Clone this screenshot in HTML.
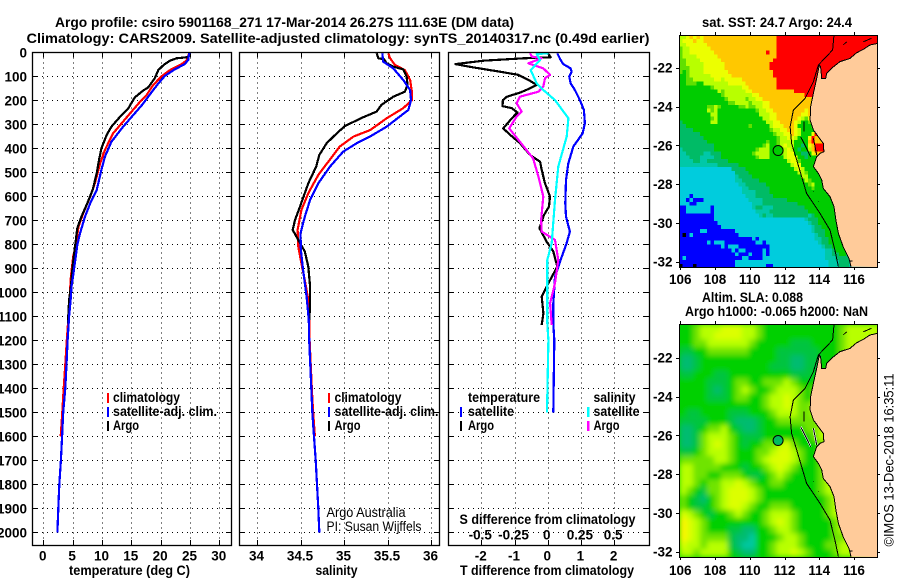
<!DOCTYPE html>
<html lang="en">
<head>
<meta charset="utf-8">
<title>Argo profile</title>
<style>
html,body{margin:0;padding:0;background:#fff;}
svg{display:block;}
text{font-family:"Liberation Sans",sans-serif;font-size:13.5px;font-weight:700;fill:#000;}
text.reg{font-weight:400;}
</style>
</head>
<body>
<svg id="chart" xmlns="http://www.w3.org/2000/svg" width="900" height="580" viewBox="0 0 900 580">
  <rect width="900" height="580" fill="#fff"/>
  <text x="55" y="27" font-size="14" textLength="459" lengthAdjust="spacingAndGlyphs">Argo profile: csiro 5901168_271 17-Mar-2014 26.27S 111.63E (DM data)</text>
  <text x="26.5" y="43" textLength="623" lengthAdjust="spacingAndGlyphs">Climatology: CARS2009. Satellite-adjusted climatology: synTS_20140317.nc (0.49d earlier)</text>

  <g id="panelT"></g>
  <g id="panelS"></g>
  <g id="panelD"></g>

  <g>
    <rect x="107" y="393" width="2" height="10" fill="#f00"/>
    <text x="113" y="402" textLength="67" lengthAdjust="spacingAndGlyphs">climatology</text>
    <rect x="107" y="407" width="2" height="10" fill="#00f"/>
    <text x="113" y="416" textLength="104" lengthAdjust="spacingAndGlyphs">satellite-adj. clim.</text>
    <rect x="107" y="421" width="2" height="10" fill="#000"/>
    <text x="113" y="430" textLength="26" lengthAdjust="spacingAndGlyphs">Argo</text>
  </g>
  <g>
    <rect x="328" y="393" width="2" height="10" fill="#f00"/>
    <text x="334.5" y="402" textLength="67" lengthAdjust="spacingAndGlyphs">climatology</text>
    <rect x="328" y="407" width="2" height="10" fill="#00f"/>
    <text x="334.5" y="416" textLength="104" lengthAdjust="spacingAndGlyphs">satellite-adj. clim.</text>
    <rect x="328" y="421" width="2" height="10" fill="#000"/>
    <text x="334.5" y="430" textLength="26" lengthAdjust="spacingAndGlyphs">Argo</text>
    <text class="reg" x="326.5" y="517" textLength="79" lengthAdjust="spacingAndGlyphs">Argo Australia</text>
    <text class="reg" x="326.5" y="531" textLength="95" lengthAdjust="spacingAndGlyphs">PI: Susan Wijffels</text>
  </g>
  <g>
    <text x="468" y="402" textLength="72" lengthAdjust="spacingAndGlyphs">temperature</text>
    <rect x="460" y="407" width="2" height="10" fill="#00f"/>
    <text x="468" y="416" textLength="46" lengthAdjust="spacingAndGlyphs">satellite</text>
    <rect x="460" y="421" width="2" height="10" fill="#000"/>
    <text x="468" y="430" textLength="26" lengthAdjust="spacingAndGlyphs">Argo</text>
    <text x="593.5" y="402" textLength="42" lengthAdjust="spacingAndGlyphs">salinity</text>
    <rect x="587" y="407" width="2.5" height="10" fill="#0ff"/>
    <text x="593.5" y="416" textLength="46" lengthAdjust="spacingAndGlyphs">satellite</text>
    <rect x="587" y="421" width="2.5" height="10" fill="#f0f"/>
    <text x="593.5" y="430" textLength="26" lengthAdjust="spacingAndGlyphs">Argo</text>
    <text x="459.5" y="524" textLength="176" lengthAdjust="spacingAndGlyphs">S difference from climatology</text>
  </g>

  <text x="69" y="575" textLength="121" lengthAdjust="spacingAndGlyphs">temperature (deg C)</text>
  <text x="315.5" y="575" textLength="42" lengthAdjust="spacingAndGlyphs">salinity</text>
  <text x="460" y="575" textLength="174" lengthAdjust="spacingAndGlyphs">T difference from climatology</text>

  <g id="map1"></g>
  <g id="map2"></g>

  <text x="702" y="27" textLength="150" lengthAdjust="spacingAndGlyphs">sat. SST: 24.7 Argo: 24.4</text>
  <text x="702" y="302" textLength="101" lengthAdjust="spacingAndGlyphs">Altim. SLA: 0.088</text>
  <text x="685" y="316" textLength="183" lengthAdjust="spacingAndGlyphs">Argo h1000: -0.065 h2000: NaN</text>
  <text class="reg" transform="translate(893.5,546.5) rotate(-90)" x="0" y="0" textLength="173" lengthAdjust="spacingAndGlyphs">©IMOS 13-Dec-2018 16:35:11</text>

  <defs>
    <filter id="soft" x="-5%" y="-5%" width="110%" height="110%"><feGaussianBlur stdDeviation="2.6"/></filter>
  </defs>
</svg>

<script>
// ---------- tick labels ----------
const depthTicks = [0,100,200,300,400,500,600,700,800,900,1000,1100,1200,1300,1400,1500,1600,1700,1800,1900,2000];
const tempTicks = [0,5,10,15,20,25,30];
const salTicks = [34,34.5,35,35.5,36];
const tDiffTicks = [-2,-1,0,1,2];
const sDiffTicks = [-0.5,-0.25,0,0.25,0.5];
const lonTicks = [106,108,110,112,114,116];
const latTicks = [-22,-24,-26,-28,-30,-32];

// ---------- temperature profiles ----------
const tArgoDepth = [0,20,25,35,53,74,108,146,160,188,233,268,310,344,400,449,504,574,629,685,733,810,893,976,1033,1130];
const tArgo = [25.0,24.7,22.7,21.6,20.5,19.6,19.0,17.9,17.0,15.6,14.5,13.1,11.6,10.8,9.9,9.5,9.1,8.4,7.5,6.5,5.8,5.4,5.0,4.7,4.4,4.2];
const tClimDepth = [0,32,49,74,99,136,178,206,254,303,338,407,462,546,601,671,726,796,851,935,1018,1100,1200,1300,1400,1500,1600];
const tClim = [24.9,24.5,23.6,21.6,20.2,18.75,17.6,16.5,14.8,13.1,11.9,10.5,9.7,8.8,8.0,6.8,6.0,5.6,5.1,4.7,4.5,4.3,4.0,3.75,3.47,3.24,2.96];
const tSatDepth = [0,32,49,74,99,130,165,220,268,310,373,435,490,574,629,685,754,803,865,928,976,1033,1100,1200,1300,1400,1500,1600,1700,1800,1900,2000];
const tSat = [24.9,24.7,24.1,22.2,20.7,19.6,18.5,16.8,15.1,13.6,11.6,10.5,9.9,9.1,8.0,7.1,6.25,5.8,5.45,5.1,4.8,4.65,4.4,4.15,3.95,3.75,3.4,3.2,3.0,2.73,2.56,2.4];

// ---------- salinity profiles ----------
const sArgoDepth = [4,25,29,46,60,71,101,136,164,185,219,247,271,307,338,379,428,476,546,643,699,740,782,830,893,976,1058,1115];
const sArgo = [35.375,35.395,35.46,35.49,35.567,35.68,35.72,35.73,35.70,35.567,35.43,35.375,35.22,35.01,34.916,34.80,34.716,34.68,34.59,34.494,34.437,34.41,34.475,34.55,34.59,34.61,34.61,34.60];
const sClimDepth = [4,25,53,74,115,164,199,233,275,324,351,393,456,511,587,657,740,810,879,949,1032,1115,1200,1400,1500,1600];
const sClim = [35.51,35.53,35.586,35.70,35.76,35.78,35.78,35.68,35.49,35.30,35.11,34.95,34.82,34.705,34.59,34.51,34.467,34.475,34.51,34.55,34.59,34.60,34.605,34.63,34.645,34.665];
const sSatDepth = [4,39,67,115,157,199,240,268,310,351,379,414,476,546,615,685,754,824,907,1018,1115,1200,1400,1500,1600,1700,1800,1900,2000];
const sSat = [35.44,35.45,35.567,35.68,35.76,35.77,35.74,35.64,35.49,35.30,35.145,34.99,34.84,34.705,34.61,34.55,34.50,34.505,34.53,34.57,34.595,34.60,34.624,34.636,34.655,34.675,34.69,34.705,34.716];

// ---------- difference profiles ----------
const dTSatDepth = [4,32,49,67,81,101,129,157,199,240,296,338,393,463,532,629,685,747,796,872,935,1046,1129,1199,1500];
const dTSat = [0.29,0.39,0.47,0.69,0.72,0.65,0.69,0.82,0.97,1.09,1.12,1.05,0.77,0.62,0.55,0.53,0.55,0.67,0.57,0.37,0.22,0.17,0.17,0.2,0.17];
const dTArgoDepth = [7,21,25,35,49,63,81,94,115,136,150,168,185,199,224,233,251,275,317,344,379,428,456,490,546,601,643,678,733,789,830,893,962,1018,1088,1136];
const dTArgo = [0.02,0.09,-0.73,-1.94,-2.78,-2.24,-1.44,-0.88,-0.58,-0.33,-0.53,-0.83,-1.23,-1.35,-1.36,-1.08,-0.91,-1.08,-1.34,-1.13,-0.83,-0.53,-0.23,-0.18,-0.08,0.07,0.04,-0.11,-0.25,-0.03,0.17,0.29,0.02,-0.18,-0.13,-0.18];
const dSArgoDepth = [4,18,25,46,67,94,108,143,164,185,212,247,268,317,372,442,518,601,699,747,782,865,962,1046,1136];
const dSArgo = [-0.133,-0.12,-0.045,-0.146,-0.033,0.018,-0.02,-0.033,-0.07,-0.21,-0.234,-0.196,-0.234,-0.29,-0.21,-0.11,-0.07,-0.033,-0.05,-0.045,0.055,0.08,0.055,0.018,0.03];
const dSSatDepth = [4,7,32,74,129,157,199,275,351,476,615,796,865,1004,1129,1199,1500];
const dSSat = [0.005,-0.083,-0.058,-0.128,-0.083,-0.033,0.055,0.156,0.143,0.08,0.055,0.03,-0.003,-0.003,-0.003,0.005,-0.005];

// ---------- SST map cells (0.2 degree); one letter per cell, spaces only group for reading ----------
const sstCells = [
"llyoyoyooo oooooooooo oooooooor",
"lyyyoyyooo oooooooooo oooooooor",
"llyyyyyyoo oooooooooo oooooooor",
"gllyyyyyyo oooooooooo oooooooor",
"gllyyyyyyy oooooooooo oooooroor",
"gllllyyyyy yooooooooo oooooooor",
"ggllllyyyy yyoooooooo ooooooor",
"gglllllyyy yyyooooooo oooooor",
"gggllllyyy yyyooooooo oooooor",
"gGgllllyyy yyyyoooooo ooooooor",
"GGglllllly yyyyyooooo ooooooor",
"GGggllllll yylyyyyyoo oooooooor",
"GGgggGGlll llllyyyyyo oooooooor",
"GGGGGGGGGg llllllllyy oooooooor",
"GGGGGGGGGG Glglllllly yoooooooooooor",
"GGGGGGGGGG GGglllllll lyyooooooo oooooor",
"GGGGGGGGGG GGGglllllg llyyoooooo oooooooooo",
"GGGGGGGGGG GGGGggllll glllyyoooo oooooooooo",
"GGGGGGGGgg lgGGGGGggl ggllyyoooo oooooooooo",
"GGGGGGGGlg lGGGGGGGGG GGgllyyooo ooooooyooo",
"GGGGGGGGGl lGGGGGGGGG GGGlllyyoo oooooyyooo",
"GGGGGGGGGg lGGGGGGGGG GGGGllyyoo ooooylgyoo",
"tGGGGGGGGl lGGGGGGGGG GGGGGllyyo oooylGGglo",
"ttGGGGGGGG GGGGGGGGGG gGGGGGlyyy oooyGGGGgo",
"ttttGGGGGG GGGGGGGGGG GGGGGGgllyy ooylGGGGry",
"ttttttGGGG GGGGGGGGGG GGGGGGGglly yoylGGGyro",
"tttttttGGG GGGGGGGGGG GGGGGGGGgl lyylGGGyro",
"ttttttttGG GGGGGGGGGG GGGGGgGGgl lllGGGGoro",
"tttttttttt GGGGGGGGGG GGGGglGGgl yllGGtGyor",
"Tttttttttt GGGGGGGGGG GGglllGGgg lylGtGGlor",
"TTtttttTTt ttGGGGGGGG GgllllGGGg lyyGGttGyo",
"TTTtttTTTT ttGGGGGGGG GGglllGGGG lyyyGGtGGG",
"TTTTttTTtt ttttGGGGGG GGGGGGGGGG GlyygGGGGG",
"TTTTTTTTTT TttttttGGG GGGGGGGGGG GGlyyGGGGG",
"cccccccccc cccccttttG GGGGGGGGGG GGGlylGGGG G",
"cccccccccc cccccctttt GGGGGGGGGG GGGGllgGGG GG",
"cccccccccc ccccccTttt tGGGGGGGGG GGGGGllGGG GGG",
"cccccccccc ccccccTTtt tttGGGGGGG GGGGGGlgGG GGG",
"cccccccccc cccccccTTt tttttGGGGG GGGGGGGglG GGG",
"cccccccccc ccccccccTT ttttttGGGG GGGGGGGGgG GGG",
"cccccccccc ccccccccTT TTttttGGGG GGGGGGGGGG GGGG",
"cccbcccccc cccccccccT TTtttttGGG GGGGGGGGGG GGGGt",
"ccbcbbbccc cccccccccc TTTTtttttt tGGGGGGGGG GGGGGt",
"cccbbccccc cccccccccc cTTTtttttt ttttGGGGGG GGGGGGtt",
"bbcccccccb cccccccccc cTttTTTttt ttttttGGGG GGGGGGGtt",
"bbcccccccb cccccccccc ccTTTTtttt tttttttGGG GGGGGGGttt",
"bbbbbbbbbb cccccccccc cccTtTTttt tttttttTtG GGGGGGGGtt",
"bbbbbbbbbb cccccccccc cccccccccc ccccccTttt GGGGGGGGGtt",
"bbbbbbbbbb bccccccccc cccccccccc cccccccTtt GGGGGGGGGGtT",
"bbbbbbbbbb bbcccccccc cccccccccc ccccccccTt tGGGGGGGGGtT",
"bbbbbbccbb bbbbbbcccc cccccccccc ccccccccTt ttGGGGGGGGttT",
"bkbcbbbbbb bbbbbbbccc cccccccccc cccccccccT ttGGGGGGGGtTT",
"bbbbbbbbbb bbbbbbbbbb bcbccccccc cccccccccT TttGGGGGGGttTT",
"bbbbbbbbcb cccbbbbbbb bbccbccccc cccccccccc TttGGGGGGttTc",
"bbbbbbbbbb bbcbcccbbb bbbbbbcccc cccccccccc cTttGGGGttTc",
"bbbbbbbbbb bbbbbcbccb bbbbcbcccc cccccccccc ccTTtGGGttTcc",
"bbbbbbbbbb bbbbbbcbbb cbbbcbcccc cccccccccc ccTTttGGttTcc",
"bcbbbbbbbb bbbbbbbbcc bbbbcccccc cccccccccc ccTTTttttTcc",
"bbbbbbbbbb bbbbbbcccc cccccccccc cccccccccc cccTTTtttTcc",
"kbbbkbbbbb bbbbbbcccc cccccbbccc cccccccccc cccTTTtttcc"
];

// ---------- SLA map cells (0.4 degree); one colour level per cell ----------
const slaCells = [
"3345556665543333333333345",
"3345566665543333333333345",
"3344555555433333222333345",
"2233444444333322222233345",
"1123333333333322112233345",
"1123333333333222112233455",
"2233322333333333222334555",
"3333222344334445433345555",
"3333212345433455543445555",
"3333222344334556543455555",
"3333333333334556544555555",
"3223333222333455544555555",
"2222333211123344444455555",
"1123445321123333334455555",
"1124555432223333333455555",
"1124565432334456433345555",
"2234555433344566543345555",
"4444455433345666543345555",
"5544443332334565433345555",
"5544334443223454333345555",
"5543445565433443333345555",
"5432445666543333333345555",
"4321345666543333333334555",
"4322345665433444333334555",
"6543233454334555433334555",
"7654333333334565433333455",
"7654333221133455433333455",
"7654444211033345543333445",
"6554555210033455543334455",
"5545555321133455654333455"
];

// ---------- geography (lon / lat) ----------
const coastLon = [117.34,116.92,116.54,116.15,115.77,115.19,114.71,114.43,114.37,114.14,114.08,114.0,113.91,113.79,113.66,113.5,113.47,113.66,113.95,114.23,114.27,114.04,113.85,113.66,113.95,114.14,114.23,114.62,114.85,114.96,115.1,115.38,115.71,115.83];
const coastLat = [-20.75,-20.83,-21.05,-21.23,-21.52,-21.69,-22.03,-22.29,-22.55,-22.55,-21.95,-21.86,-22.29,-22.81,-23.32,-24.01,-24.7,-25.21,-25.56,-25.9,-26.33,-26.42,-26.59,-27.1,-27.45,-27.79,-28.22,-28.65,-29.16,-29.85,-30.54,-31.23,-31.83,-32.26];
const isoLon = [114.85,114.77,113.95,113.66,113.18,112.51,112.32,112.41,112.7,113.27,114.04,114.62,114.9,115.1];
const isoLat = [-20.32,-21.09,-21.86,-22.72,-23.58,-24.18,-25.04,-25.9,-26.76,-28.48,-29.51,-30.37,-31.4,-32.26];
const islandLon = [[113.12,113.12],[112.93,113.27,113.5],[113.66,113.85],[115.38,115.58],[116.54,117.0],[113.66,113.7],[113.95,113.99],[115.75,115.9]];
const islandLat = [[-24.78,-25.3],[-25.56,-26.16,-26.59],[-25.64,-26.5],[-20.83,-20.66],[-20.66,-20.49],[-28.39,-28.39],[-28.9,-28.9],[-31.96,-31.96]];
const argoLon = 111.63;
const argoLat = -26.27;

const NS = 'http://www.w3.org/2000/svg';
function el(parent, tag, attrs, name, txt) {
  const e = document.createElementNS(NS, tag);
  for (const k in attrs) e.setAttribute(k, attrs[k]);
  
  
  if (txt !== undefined) e.textContent = txt;
  parent.appendChild(e);
  return e;
}

// ---------- profile panels ----------
const TOP = 52.3, BOT = 545;
const yD = d => TOP + 0.24 * d;
const xT = t => 43.3 + 5.867 * t;
const xS = s => 257 + 87 * (s - 34);
const xDT = t => 547.7 + 33.2 * t;
const xDS = s => 547.7 + 132.8 * s;

function profile(g, depths, vals, xf, color, w, name) {
  const pts = depths.map((d, i) => xf(vals[i]).toFixed(1) + ',' + yD(d).toFixed(1)).join(' ');
  el(g, 'polyline', {points: pts, fill: 'none', stroke: color, 'stroke-width': w, 'stroke-linejoin': 'round', 'shape-rendering': 'crispEdges'}, name);
}

function panelFrame(g, L, R, xTicks, xf, labelFn, depthLabels) {
  const hLine = {stroke: '#000', 'stroke-width': 1, 'stroke-dasharray': '1 4', 'shape-rendering': 'crispEdges'};
  depthTicks.forEach(d => {
    const y = Math.round(yD(d)) + 0.5;
    el(g, 'line', Object.assign({x1: L, x2: R, y1: y, y2: y}, hLine), 'depth-gridline');
    el(g, 'line', {x1: L, x2: L + 5, y1: y, y2: y, stroke: '#000', 'stroke-width': 1}, 'depth-tick-left');
    el(g, 'line', {x1: R - 5, x2: R, y1: y, y2: y, stroke: '#000', 'stroke-width': 1}, 'depth-tick-right');
    if (depthLabels) el(g, 'text', {x: 27, y: yD(d) + 5, 'text-anchor': 'end'}, 'depth-tick-label', String(d));
  });
  xTicks.forEach(t => {
    const x = Math.round(xf(t)) + 0.5;
    el(g, 'line', Object.assign({x1: x, x2: x, y1: TOP, y2: BOT}, hLine), 'x-gridline');
    el(g, 'line', {x1: x, x2: x, y1: BOT - 5, y2: BOT, stroke: '#000', 'stroke-width': 1}, 'x-tick-bottom');
    el(g, 'line', {x1: x, x2: x, y1: TOP, y2: TOP + 5, stroke: '#000', 'stroke-width': 1}, 'x-tick-top');
    el(g, 'text', {x: xf(t) - 0.5, y: 560.5, 'text-anchor': 'middle'}, 'x-tick-label', labelFn(t));
  });
}
function panelBorder(g, L, R) {
  el(g, 'rect', {x: L + 0.5, y: 52.5, width: R - L, height: 493, fill: 'none', stroke: '#000', 'stroke-width': 1.3}, 'panel-frame');
}

const LW = 2.2;
const gT = document.getElementById('panelT');
panelFrame(gT, 32, 231, tempTicks, xT, String, true);
profile(gT, tClimDepth, tClim, xT, '#f00', LW, 'temperature-climatology-line');
profile(gT, tArgoDepth, tArgo, xT, '#000', LW, 'temperature-argo-line');
profile(gT, tSatDepth, tSat, xT, '#00f', LW, 'temperature-satellite-line');
panelBorder(gT, 32, 231);

const gS = document.getElementById('panelS');
panelFrame(gS, 239, 439, salTicks, xS, String, false);
profile(gS, sClimDepth, sClim, xS, '#f00', LW, 'salinity-climatology-line');
profile(gS, sArgoDepth, sArgo, xS, '#000', LW, 'salinity-argo-line');
profile(gS, sSatDepth, sSat, xS, '#00f', LW, 'salinity-satellite-line');
panelBorder(gS, 239, 439);

const gD = document.getElementById('panelD');
panelFrame(gD, 448, 649, tDiffTicks, xDT, String, false);
sDiffTicks.forEach(s => {
  el(gD, 'text', {x: xDS(s) - 1, y: 539.5, 'text-anchor': 'middle'}, 's-difference-tick-label', String(s));
});
profile(gD, dTSatDepth, dTSat, xDT, '#00f', LW, 't-difference-satellite-line');
profile(gD, dTArgoDepth, dTArgo, xDT, '#000', LW, 't-difference-argo-line');
profile(gD, dSArgoDepth, dSArgo, xDS, '#f0f', LW, 's-difference-argo-line');
profile(gD, dSSatDepth, dSSat, xDS, '#0ff', LW, 's-difference-satellite-line');
panelBorder(gD, 448, 649);

// ---------- maps ----------
const LAND = '#ffcb9a';
const sstColors = {r:'#ff0000', o:'#ffc800', y:'#ecff00', l:'#b8ff00', g:'#60e000', G:'#00cc00', t:'#00bb66', T:'#00c8a8', c:'#00ccdd', b:'#0000ff', k:'#000000'};
const slaColors = ['#00c8a0','#00bc70','#00c440','#00d000','#70e400','#b8ff00','#dcff00','#fff400','#ffd400'];
const xLon = lon => 680.3 + 17.37 * (lon - 106);

function drawMap(id, top, bottom, y22, cells, colorOf, cellDeg, soft, markerFill, xLabelY) {
  const g = document.getElementById(id);
  const L = 679, R = 877;
  const yLat = lat => y22 + 19.4 * (-22 - lat);
  const lat0 = -22 + (y22 - top) / 19.4;
  const lon0 = 105.94;
  const clip = el(g, 'clipPath', {id: id + '-clip'}, 'map-clip');
  el(clip, 'rect', {x: L, y: top, width: R - L, height: bottom - top}, 'map-clip-rect');
  const body = el(g, 'g', {'clip-path': 'url(#' + id + '-clip)'}, 'map-body');
  el(body, 'rect', {x: L, y: top, width: R - L, height: bottom - top, fill: colorOf('3')}, 'map-background');
  const cg = el(body, 'g', soft ? {filter: 'url(#soft)'} : {'shape-rendering': 'crispEdges'}, 'map-cells');
  const nCols = Math.ceil((117.34 - lon0) / cellDeg);
  cells.forEach((rowRaw, j) => {
    const row = rowRaw.replace(/ /g, '');
    for (let i = 0; i < nCols; i++) {
      const ch = row[Math.min(i, row.length - 1)];
      const x0 = xLon(lon0 + i * cellDeg), x1 = xLon(lon0 + (i + 1) * cellDeg);
      const y0 = yLat(lat0 - j * cellDeg), y1 = yLat(lat0 - (j + 1) * cellDeg);
      el(cg, 'rect', {x: x0.toFixed(2), y: y0.toFixed(2), width: (x1 - x0 + 0.3).toFixed(2), height: (y1 - y0 + 0.3).toFixed(2), fill: colorOf(ch)}, 'map-cell');
    }
  });
  const crisp = 'crispEdges';
  const coast = coastLon.map((lo, i) => xLon(lo).toFixed(1) + ',' + yLat(coastLat[i]).toFixed(1));
  el(body, 'polygon', {points: coast.join(' ') + ' ' + R + ',' + bottom + ' ' + R + ',' + yLat(-20.75).toFixed(1), fill: LAND}, 'land');
  el(body, 'polyline', {points: coast.join(' '), fill: 'none', stroke: '#000', 'stroke-width': 1, 'shape-rendering': crisp}, 'coastline');
  const iso = isoLon.map((lo, i) => xLon(lo).toFixed(1) + ',' + yLat(isoLat[i]).toFixed(1)).join(' ');
  el(body, 'polyline', {points: iso, fill: 'none', stroke: '#000', 'stroke-width': 1, 'shape-rendering': crisp}, 'isobath');
  islandLon.forEach((los, k) => {
    const p = los.map((lo, i) => xLon(lo).toFixed(1) + ',' + yLat(islandLat[k][i]).toFixed(1)).join(' ');
    if (soft && (k === 1 || k === 2)) el(body, 'polyline', {points: p, fill: 'none', stroke: '#fff', 'stroke-width': 2, 'shape-rendering': crisp}, 'island-halo');
    el(body, 'polyline', {points: p, fill: 'none', stroke: '#000', 'stroke-width': 1, 'shape-rendering': crisp}, 'island');
  });
  el(body, 'circle', {cx: xLon(argoLon), cy: yLat(argoLat), r: 5, fill: markerFill, stroke: '#000', 'stroke-width': 1}, 'argo-position-marker');
  el(g, 'rect', {x: L + 0.5, y: top + 0.5, width: R - L, height: bottom - top, fill: 'none', stroke: '#000', 'stroke-width': 1}, 'map-frame');
  lonTicks.forEach(lo => {
    const x = Math.round(xLon(lo)) + 0.5;
    el(g, 'line', {x1: x, x2: x, y1: top - 3, y2: top, stroke: '#000', 'stroke-width': 1}, 'lon-tick-top');
    el(g, 'line', {x1: x, x2: x, y1: bottom, y2: bottom + 3, stroke: '#000', 'stroke-width': 1}, 'lon-tick-bottom');
    el(g, 'text', {x: xLon(lo), y: xLabelY, 'text-anchor': 'middle'}, 'lon-tick-label', String(lo));
  });
  latTicks.forEach(la => {
    const y = Math.round(yLat(la)) + 0.5;
    el(g, 'line', {x1: L - 3, x2: L, y1: y, y2: y, stroke: '#000', 'stroke-width': 1}, 'lat-tick-left');
    el(g, 'line', {x1: R, x2: R + 3, y1: y, y2: y, stroke: '#000', 'stroke-width': 1}, 'lat-tick-right');
    el(g, 'text', {x: 672.5, y: yLat(la) + 5, 'text-anchor': 'end'}, 'lat-tick-label', String(la));
  });
}
drawMap('map1', 35, 267, 67.7, sstCells, c => c === '3' ? sstColors.G : sstColors[c], 0.2, false, '#00cc00', 284);
drawMap('map2', 324, 557, 357.7, slaCells, c => slaColors[+c], 0.4, true, '#00bc60', 575);
</script>
</body>
</html>
